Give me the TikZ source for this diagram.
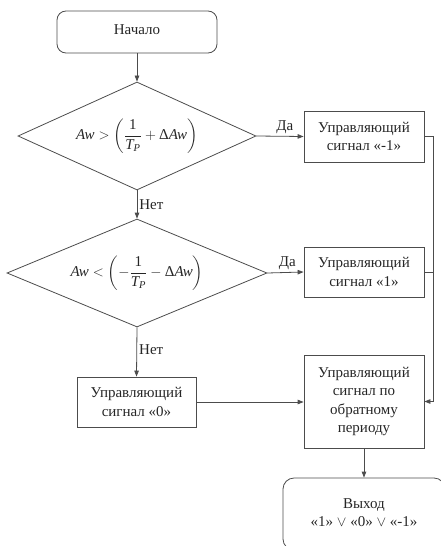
\documentclass[tikz,border=0pt]{standalone}
\usepackage{amsmath}
\usepackage{fontspec}
\setmainfont{Liberation Serif}
\newfontfamily\tnr{Liberation Serif}
\usetikzlibrary{shapes.geometric,arrows.meta}
\newcommand{\vi}[1]{\textit{#1}}
\begin{document}
\begin{tikzpicture}[x=1pt,y=-1pt,
  every node/.style={font=\tnr\fontsize{15}{18.3}\selectfont, text=black!85},
  ln/.style={draw=black!70, line width=0.8pt},
  arr/.style={ln, -{Triangle[length=6pt,width=4.5pt]}},
  box/.style={ln, rectangle, align=center, inner sep=0pt},
  term/.style={box, rounded corners=9pt},
  dec/.style={ln, diamond, inner sep=0pt, aspect=2.2},
  lab/.style={inner sep=2pt}
]
\useasboundingbox (0,0) rectangle (440,546);

\node[term, minimum width=160pt, minimum height=42pt] (start) at (137,32) {\raisebox{4pt}{Начало}};

\node[dec, minimum width=238pt, minimum height=108pt] (d1) at (137,136)
  {$\vi{Aw}>\left(\dfrac{\text{1}}{\vi{T}_{\vi{P}}}+\text{Δ}\vi{Aw}\right)$};

\node[box, minimum width=120pt, minimum height=51pt] (b1) at (364,136.5)
  {Управляющий\\сигнал «-1»};

\node[dec, minimum width=260pt, minimum height=108pt] (d2) at (137,273)
  {$\vi{Aw}<\left(-\dfrac{\text{1}}{\vi{T}_{\vi{P}}}-\text{Δ}\vi{Aw}\right)$};

\node[box, minimum width=120pt, minimum height=50pt] (b2) at (364,272)
  {Управляющий\\сигнал «1»};

\node[box, minimum width=119pt, minimum height=50pt] (b3) at (136.5,402)
  {Управляющий\\сигнал «0»};

\node[box, minimum width=120pt, minimum height=93pt] (b4) at (364,401.5)
  {Управляющий\\сигнал по\\обратному\\периоду};

\node[term, rounded corners=11pt, minimum width=162pt, minimum height=72pt] (out) at (364,514)
  {\raisebox{6pt}{\begin{tabular}{@{}c@{}}Выход\\«1» $\vee$ «0» $\vee$ «-1»\end{tabular}}};

\coordinate (rail) at (433,0);

\draw[arr] (start) -- (d1);
\draw[arr] (d1.east) -- node[lab, above, pos=0.6] {Да} (b1.west);
\draw[arr] (d1.south) -- node[lab, right, pos=0.5] {Нет} (d2.north);
\draw[arr] (d2.east) -- node[lab, above, pos=0.55] {Да} (b2.west);
\draw[arr] (d2.south) -- node[lab, right, pos=0.45] {Нет} (b3.north);
\draw[arr] (b3.east) -- (b3.east -| b4.west);
\draw[arr] (b1.east) -- (b1.east -| rail) -- (b4.east -| rail) -- (b4.east);
\draw[ln] (b2.east) -- (b2.east -| rail);
\draw[arr] (b4) -- (out);
\end{tikzpicture}
\end{document}
